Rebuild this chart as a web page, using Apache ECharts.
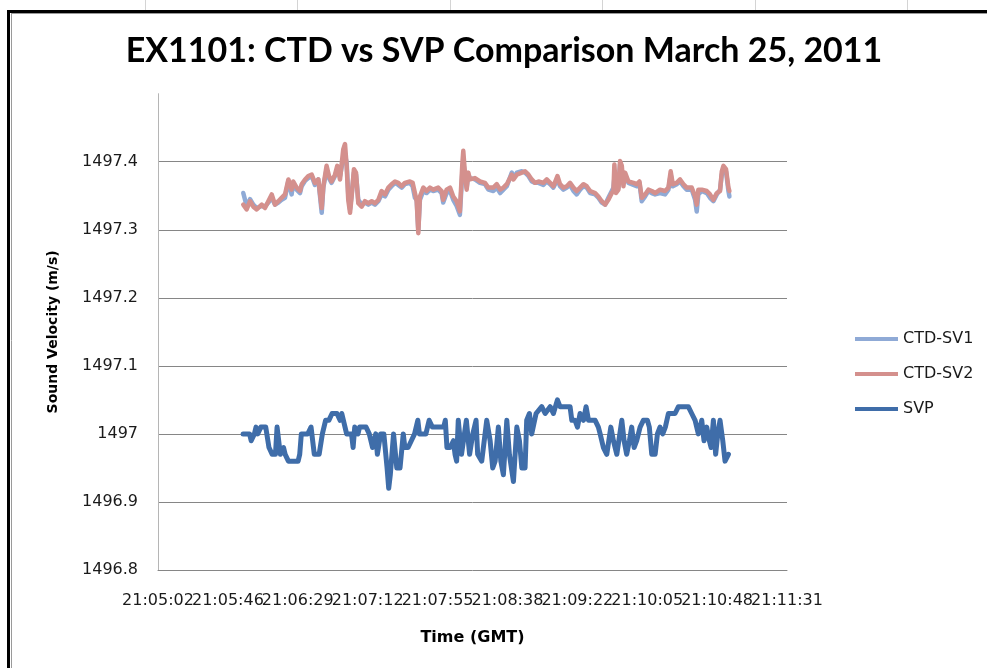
<!DOCTYPE html>
<html>
<head>
<meta charset="utf-8">
<script src="https://cdn.jsdelivr.net/npm/echarts@6/dist/echarts.min.js"></script>
<style>html,body{margin:0;padding:0;background:#fff}#c{width:987px;height:668px}</style>
</head>
<body>
<div id="c"></div>
<script>
// Time axis tick labels (GMT)
const xTickLabels = ['21:05:02','21:05:46','21:06:29','21:07:12','21:07:55','21:08:38','21:09:22','21:10:05','21:10:48','21:11:31'];
const yTickLabels = ['1496.8','1496.9','1497','1497.1','1497.2','1497.3','1497.4'];
const seriesNames = ['CTD-SV1','CTD-SV2','SVP'];

// CTD samples: seconds after 21:05:00 GMT
const ctdSec = [
55.1,57.2,59.3,61.3,63.4,66.5,68.5,70.6,72.7,74.7,
76.8,78.8,80.9,83.0,85.0,86.0,88.1,90.2,91.2,93.3,
95.3,97.4,99.4,101.5,103.6,104.6,106.6,108.1,109.7,111.8,
113.2,114.9,116.9,118.0,119.0,120.0,121.1,122.1,123.5,124.8,
126.2,128.3,130.3,132.4,134.5,136.5,138.6,140.6,142.7,144.8,
146.8,148.9,150.9,153.0,155.0,158.1,159.8,161.2,162.3,163.3,
164.3,166.4,168.4,170.5,172.5,175.6,177.7,178.7,180.8,182.9,
184.9,187.0,189.0,190.5,191.1,192.1,193.2,194.2,195.2,198.3,
201.4,204.5,206.6,209.7,211.8,213.9,215.9,218.0,221.1,222.1,
224.2,227.3,229.3,231.4,233.4,235.5,237.6,240.6,242.7,244.8,
246.8,249.3,250.9,253.0,255.1,257.1,259.2,261.2,263.3,265.4,
267.4,269.5,272.6,274.6,276.7,278.8,280.8,282.9,283.9,284.5,
285.5,287.0,288.0,289.1,290.1,291.1,293.2,296.3,298.3,300.0,
301.4,303.5,305.5,307.6,309.7,312.7,315.8,317.9,319.3,320.6,
323.0,325.1,327.2,329.2,332.3,334.4,335.4,336.4,338.5,341.6,
343.6,345.7,347.8,349.8,350.9,351.9,353.5,355.0,355.6];

const ctdSv1 = [
1497.354,1497.335,1497.345,1497.337,1497.332,1497.335,1497.334,1497.340,1497.347,1497.337,
1497.340,1497.344,1497.347,1497.372,1497.352,1497.369,1497.359,1497.354,1497.364,1497.372,
1497.376,1497.379,1497.366,1497.374,1497.325,1497.362,1497.389,1497.376,1497.369,1497.379,
1497.389,1497.379,1497.405,1497.410,1497.399,1497.352,1497.330,1497.352,1497.384,1497.381,
1497.344,1497.337,1497.340,1497.337,1497.340,1497.337,1497.342,1497.352,1497.349,1497.359,
1497.364,1497.369,1497.366,1497.362,1497.367,1497.369,1497.364,1497.347,1497.344,1497.300,
1497.344,1497.357,1497.354,1497.359,1497.357,1497.359,1497.354,1497.340,1497.354,1497.357,
1497.344,1497.335,1497.322,1497.384,1497.400,1497.381,1497.362,1497.381,1497.376,1497.374,
1497.369,1497.367,1497.359,1497.357,1497.362,1497.354,1497.359,1497.364,1497.384,1497.376,
1497.384,1497.386,1497.384,1497.379,1497.371,1497.369,1497.369,1497.366,1497.371,1497.367,
1497.362,1497.374,1497.364,1497.359,1497.362,1497.366,1497.357,1497.352,1497.359,1497.364,
1497.362,1497.354,1497.352,1497.347,1497.340,1497.337,1497.347,1497.357,1497.362,1497.376,
1497.357,1497.362,1497.396,1497.396,1497.376,1497.381,1497.369,1497.366,1497.364,1497.369,
1497.342,1497.349,1497.357,1497.354,1497.352,1497.354,1497.352,1497.359,1497.381,1497.364,
1497.367,1497.371,1497.364,1497.359,1497.359,1497.344,1497.327,1497.352,1497.357,1497.354,
1497.347,1497.342,1497.352,1497.359,1497.381,1497.389,1497.386,1497.357,1497.349];

const ctdSv2 = [
1497.337,1497.330,1497.342,1497.334,1497.330,1497.337,1497.332,1497.342,1497.352,1497.337,
1497.342,1497.347,1497.352,1497.374,1497.359,1497.371,1497.362,1497.357,1497.367,1497.374,
1497.379,1497.381,1497.369,1497.374,1497.332,1497.364,1497.394,1497.379,1497.371,1497.381,
1497.394,1497.374,1497.418,1497.426,1497.394,1497.344,1497.325,1497.349,1497.389,1497.384,
1497.339,1497.334,1497.342,1497.339,1497.342,1497.339,1497.344,1497.357,1497.352,1497.362,
1497.367,1497.371,1497.369,1497.364,1497.369,1497.371,1497.369,1497.354,1497.342,1497.295,
1497.349,1497.362,1497.357,1497.362,1497.359,1497.362,1497.357,1497.344,1497.359,1497.362,
1497.349,1497.342,1497.327,1497.396,1497.416,1497.384,1497.359,1497.384,1497.374,1497.376,
1497.371,1497.369,1497.362,1497.362,1497.367,1497.359,1497.362,1497.367,1497.381,1497.374,
1497.381,1497.384,1497.386,1497.381,1497.374,1497.369,1497.371,1497.369,1497.374,1497.369,
1497.364,1497.379,1497.367,1497.362,1497.364,1497.369,1497.362,1497.357,1497.362,1497.367,
1497.364,1497.357,1497.354,1497.349,1497.342,1497.337,1497.344,1497.354,1497.357,1497.396,
1497.354,1497.359,1497.401,1497.394,1497.364,1497.384,1497.371,1497.369,1497.367,1497.371,
1497.347,1497.352,1497.359,1497.357,1497.354,1497.359,1497.357,1497.362,1497.386,1497.367,
1497.369,1497.374,1497.367,1497.362,1497.362,1497.349,1497.337,1497.359,1497.359,1497.357,
1497.352,1497.344,1497.354,1497.357,1497.386,1497.394,1497.389,1497.362,1497.357];

// SVP samples: seconds after 21:05:00 GMT
const svpSec = [
55,59,60,62,63,64,66,69,71,73,
75,76,77,78,80,81,83,89,90,91,
95,97,99,102,104,106,108,110,113,115,
116,117,118,119,122,123,124,126,127,131,
133,135,137,138,140,142,144,145,146,148,
150,152,154,155,157,159,161,163,164,168,
170,172,179,180,181,183,185,186,187,188,
190,191,193,195,197,199,200,202.5,205.6,207.7,
209.3,210.8,212.8,214.3,215.9,218.0,219.6,222.1,224.2,225.8,
227.3,229.3,230.3,232.0,233.4,234.5,236.1,239.6,241.7,244.8,
246.8,249.3,250.9,257.1,258.2,260.2,261.7,263.3,265.4,267.0,
268.5,272.6,274.6,275.7,277.7,279.8,282.3,283.9,286.0,287.0,
289.1,290.5,292.1,293.8,295.2,296.7,298.3,300.4,302.4,304.9,
306.1,307.6,309.7,311.1,312.7,314.4,316.0,317.9,322.0,324.1,
330.2,332.3,334.4,336.4,337.5,338.5,339.9,341.6,343.2,344.3,
345.7,347.1,348.4,349.8,351.5,352.9,355.0];

const svpVal = [
1497.00,1497.00,1496.99,1497.00,1497.01,1497.00,1497.01,1497.01,1496.98,1496.97,
1496.97,1497.01,1497.01,1496.97,1496.98,1496.97,1496.96,1496.96,1496.97,1497.00,
1497.00,1497.01,1496.97,1496.97,1497.00,1497.02,1497.02,1497.03,1497.03,1497.02,
1497.03,1497.03,1497.01,1497.00,1497.00,1496.98,1497.01,1497.00,1497.01,1497.01,
1497.00,1496.98,1497.00,1496.97,1497.00,1497.00,1496.95,1496.92,1496.94,1497.00,
1496.95,1496.95,1497.00,1496.98,1496.98,1496.99,1497.00,1497.02,1497.00,1497.00,
1497.02,1497.01,1497.01,1497.02,1496.98,1496.98,1496.99,1496.97,1496.96,1497.02,
1496.97,1496.97,1497.02,1496.97,1497.00,1497.02,1496.97,1496.96,1497.02,1496.99,
1496.95,1496.96,1497.01,1496.96,1496.94,1497.02,1496.97,1496.93,1497.01,1496.99,
1496.95,1496.95,1497.02,1497.03,1497.00,1497.00,1497.03,1497.04,1497.03,1497.04,
1497.03,1497.05,1497.04,1497.04,1497.02,1497.02,1497.01,1497.03,1497.02,1497.04,
1497.02,1497.02,1497.01,1497.00,1496.98,1496.97,1497.01,1496.99,1496.97,1496.97,
1497.02,1496.99,1496.97,1496.99,1497.01,1496.98,1496.99,1497.01,1497.02,1497.02,
1497.01,1496.97,1496.97,1497.00,1497.01,1497.00,1497.01,1497.03,1497.03,1497.04,
1497.04,1497.03,1497.02,1497.00,1497.01,1497.02,1496.99,1497.01,1496.99,1496.98,
1497.02,1496.97,1497.00,1497.02,1496.99,1496.96,1496.97];

// x values in tenths of a second since midnight
const BASE = 21*3600 + 5*60;
const toX = s => Math.round((BASE + s) * 10);
function pairs(secs, vals) { return secs.map((s, i) => [toX(s), vals[i]]); }
function fmtTime(v) {
  let s = Math.round(v / 10);
  const h = Math.floor(s / 3600); s -= h * 3600;
  const m = Math.floor(s / 60); s -= m * 60;
  const p = n => (n < 10 ? '0' : '') + n;
  return p(h) + ':' + p(m) + ':' + p(s);
}

const X_MIN = 759024, X_MAX = 762912, X_STEP = 432;
const labelFont = { fontFamily: 'DejaVu Sans', fontSize: 16, color: '#1a1a1a' };
// Two stacked bottom axes so that the (overlapping) labels of every tick all stay visible
function xAxisDef(parity, main) {
  return {
    type: 'value', min: X_MIN, max: X_MAX, interval: X_STEP, position: 'bottom',
    name: main ? 'Time (GMT)' : '', nameLocation: 'middle', nameGap: 60,
    nameTextStyle: { fontFamily: 'DejaVu Sans', fontWeight: 'bold', fontSize: 16, color: '#000' },
    axisLine: { show: main, lineStyle: { color: '#868686', width: 1 } },
    axisTick: { show: false },
    splitLine: { show: false },
    axisLabel: Object.assign({ margin: 23, showMinLabel: true, showMaxLabel: true,
      formatter: (v) => {
        const k = Math.round((v - X_MIN) / X_STEP);
        return (k % 2 === parity) ? fmtTime(v) : '';
      } }, labelFont)
  };
}

const chart = echarts.init(document.getElementById('c'));
const colors = ['#8FAAD6', '#D4908D', '#3F6DA9'];
chart.setOption({
  animation: false,
  backgroundColor: '#fff',
  title: {
    text: 'EX1101: CTD vs SVP Comparison March 25, 2011',
    left: 504, top: 34, textAlign: 'center',
    padding: 0,
    textStyle: { fontFamily: 'Lato', fontWeight: 'bold', fontSize: 34, color: '#000' }
  },
  legend: {
    orient: 'vertical', left: 850, top: 325,
    icon: 'rect', itemWidth: 43, itemHeight: 4, itemGap: 17,
    data: seriesNames,
    textStyle: { fontFamily: 'DejaVu Sans', fontSize: 16, color: '#1a1a1a', lineHeight: 18 }
  },
  grid: { left: 158, right: 200, top: 93.7, bottom: 98, containLabel: false },
  xAxis: [xAxisDef(0, true), xAxisDef(1, false)],
  yAxis: {
    type: 'value', min: 1496.8, max: 1497.5, interval: 0.1,
    name: 'Sound Velocity (m/s)', nameLocation: 'middle', nameGap: 98, nameRotate: 90,
    nameTextStyle: { fontFamily: 'DejaVu Sans', fontWeight: 'bold', fontSize: 14, color: '#000' },
    axisLine: { show: true, lineStyle: { color: '#B5B5B5', width: 1 } },
    axisTick: { show: false },
    splitLine: { show: true, showMaxLine: false, showMinLine: false, lineStyle: { color: '#868686', width: 1 } },
    axisLabel: Object.assign({ margin: 20, showMaxLabel: false,
      formatter: v => String(+v.toFixed(1)) }, labelFont)
  },
  series: [
    { name: seriesNames[0], type: 'line', xAxisIndex: 0, showSymbol: false, symbol: 'none', color: colors[0],
      lineStyle: { width: 4.5, color: colors[0], join: 'round', cap: 'round' }, data: pairs(ctdSec, ctdSv1), z: 2 },
    { name: seriesNames[1], type: 'line', xAxisIndex: 0, showSymbol: false, symbol: 'none', color: colors[1],
      lineStyle: { width: 4.5, color: colors[1], join: 'round', cap: 'round' }, data: pairs(ctdSec, ctdSv2), z: 3 },
    { name: seriesNames[2], type: 'line', xAxisIndex: 0, showSymbol: false, symbol: 'none', color: colors[2],
      lineStyle: { width: 5, color: colors[2], join: 'round', cap: 'round' }, data: pairs(svpSec, svpVal), z: 4 }
  ],
  graphic: [
    { type: 'rect', silent: true, z: 100, shape: { x: 8.5, y: 11.5, width: 1000, height: 700 },
      style: { fill: null, stroke: '#000', lineWidth: 3 } },
    { type: 'line', silent: true, z: 100, shape: { x1: 11.5, y1: 13, x2: 11.5, y2: 668 },
      style: { stroke: '#9a9a9a', lineWidth: 1 } },
    { type: 'line', silent: true, z: 100, shape: { x1: 11, y1: 13.5, x2: 987, y2: 13.5 },
      style: { stroke: '#9a9a9a', lineWidth: 1 } },
    { type: 'line', silent: true, shape: { x1: 145.5, y1: 0, x2: 145.5, y2: 10 }, style: { stroke: '#d4d4d4', lineWidth: 1 } },
    { type: 'line', silent: true, shape: { x1: 297.5, y1: 0, x2: 297.5, y2: 10 }, style: { stroke: '#d4d4d4', lineWidth: 1 } },
    { type: 'line', silent: true, shape: { x1: 450.5, y1: 0, x2: 450.5, y2: 10 }, style: { stroke: '#d4d4d4', lineWidth: 1 } },
    { type: 'line', silent: true, shape: { x1: 602.5, y1: 0, x2: 602.5, y2: 10 }, style: { stroke: '#d4d4d4', lineWidth: 1 } },
    { type: 'line', silent: true, shape: { x1: 755.5, y1: 0, x2: 755.5, y2: 10 }, style: { stroke: '#d4d4d4', lineWidth: 1 } },
    { type: 'line', silent: true, shape: { x1: 907.5, y1: 0, x2: 907.5, y2: 10 }, style: { stroke: '#d4d4d4', lineWidth: 1 } }
  ]
});
</script>
</body>
</html>
